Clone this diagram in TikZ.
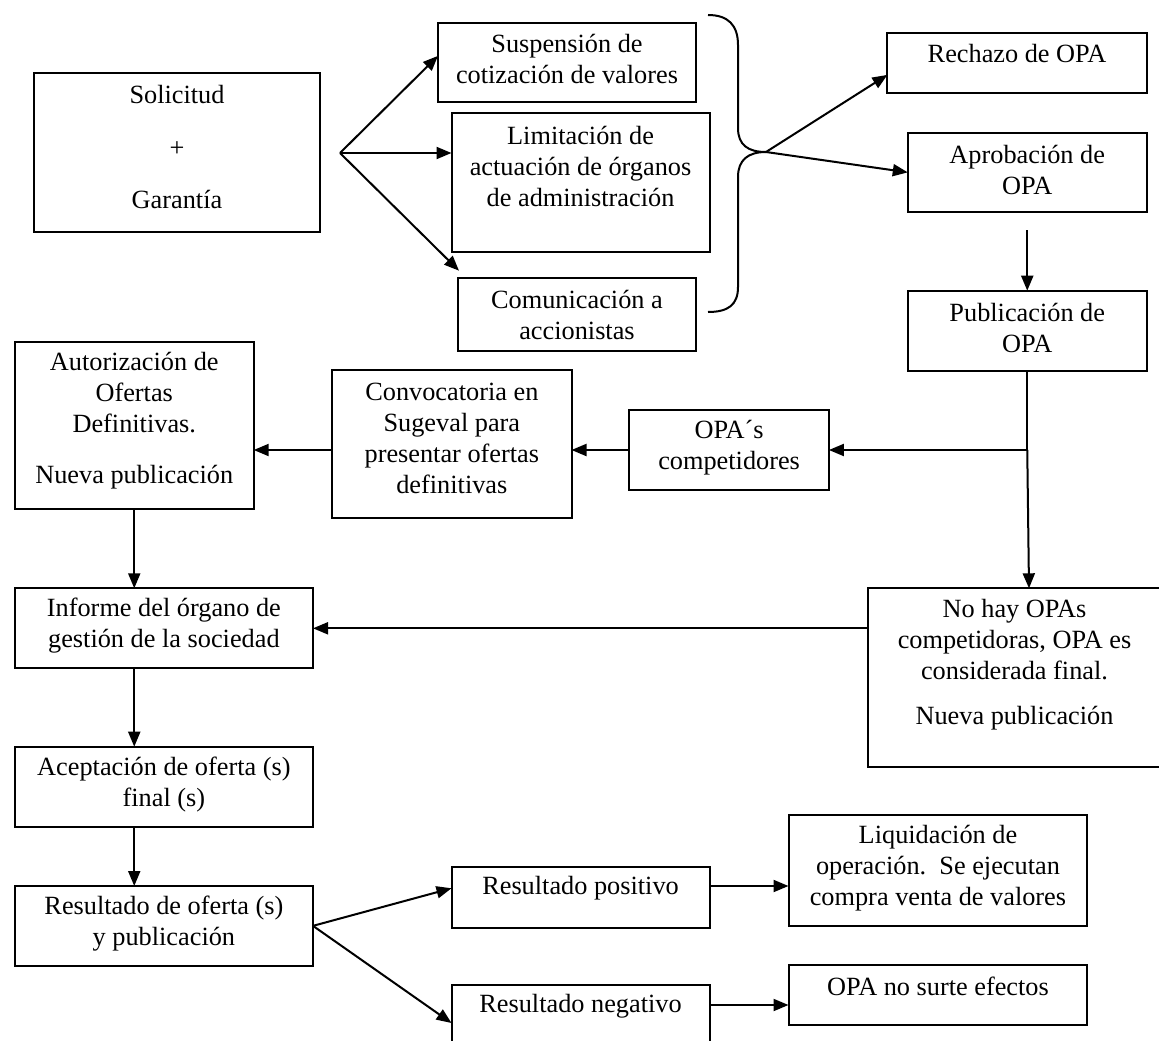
\documentclass[tikz,border=0pt]{standalone}
\usepackage{fontspec}
\setmainfont{Liberation Serif}
\usetikzlibrary{arrows.meta,calc}
\tikzset{
 box/.style={draw, line width=2pt, inner sep=0pt, outer sep=0pt},
 txt/.style={align=center, inner sep=0pt, font=\fontsize{26.3}{31}\selectfont},
 arr/.style={line width=2pt, -{Triangle[length=15pt,width=12pt]}},
 ln/.style={line width=2pt},
}
\newcommand\obox[7]{%
 \node[box, minimum width={(#4-(#2))*1pt}, minimum height={(#5-(#3))*1pt}] (#1) at ({(#2+#4)/2},{(#3+#5)/2}) {};
 \node[txt] (#1-t) at ({(#2+#4)/2},#6) {#7};
}
\begin{document}
\begin{tikzpicture}[x=1pt,y=-1pt]
\useasboundingbox (0,0) rectangle (1159,1041);
\fill[white] (0,0) rectangle (1159,1041);
\clip (0,0) rectangle (1159,1041);

\obox{sol}{34.4}{72.7}{319.6}{232.3}{147.5}{Solicitud\\[21.5pt]+\\[21.5pt]Garantía}
\obox{sus}{438}{22.7}{696}{101.7}{59}{Suspensión de\\cotización de valores}
\obox{lim}{451.5}{112.7}{709.6}{251.7}{166.5}{Limitación de\\actuación de órganos\\de administración}
\obox{com}{458}{277.7}{696}{350.7}{315}{Comunicación a\\accionistas}
\obox{rech}{887.4}{33.3}{1146.7}{92.7}{54}{Rechazo de OPA}
\obox{apr}{907.8}{132.7}{1146.7}{212}{170}{Aprobación de\\OPA}
\obox{pub}{907.8}{290.7}{1146.7}{370.7}{328}{Publicación de\\OPA}
\obox{aut}{14.8}{341.7}{253.7}{509.3}{420.3}{Autorización de\\Ofertas\\Definitivas.\\[20pt]Nueva publicación}
\obox{conv}{332.2}{370}{571.5}{518.3}{438.4}{Convocatoria en\\Sugeval para\\presentar ofertas\\definitivas}
\obox{opas}{629.3}{410}{828.9}{490}{447.2}{OPA´s\\competidores}
\obox{nohay}{868}{588.3}{1161}{766.7}{664.2}{No hay OPAs\\competidoras, OPA es\\considerada final.\\[14pt]Nueva publicación}
\obox{inf}{14.8}{588.3}{313}{668.3}{625.4}{Informe del órgano de\\gestión de la sociedad}
\obox{acep}{14.8}{746.7}{313}{826.7}{785}{Aceptación de oferta (s)\\final (s)}
\obox{res}{14.8}{886}{313}{965.7}{923.8}{Resultado de oferta (s)\\y publicación}
\obox{pos}{451.5}{866.7}{709.6}{928.3}{888.3}{Resultado positivo}
\obox{neg}{451.5}{985}{709.6}{1050}{1006.7}{Resultado negativo}
\obox{liq}{788.5}{815}{1087.4}{926}{867.8}{Liquidación de\\operación.\ \ Se ejecutan\\compra venta de valores}
\obox{opano}{788.5}{965}{1087.4}{1025}{986.7}{OPA no surte efectos}

\coordinate (f1) at (340,153);
\draw[arr] (f1) -- ($(sus.south west)!0.58!(sus.north west)$);
\draw[arr] (f1) -- (f1 -| lim.west);
\draw[arr] (f1) -- ($(com.north west)+(1,-7)$);

\coordinate (tip) at (766,152);
\draw[ln] (708,15) .. controls (728,15) and (738,25) .. (738,45) -- (738,128) .. controls (738,145) and (748,152) .. (tip) .. controls (748,152) and (738,160) .. (738,177) -- (738,287) .. controls (738,305) and (728,312) .. (708,312);
\draw[arr] (tip) -- ($(rech.south west)!0.3!(rech.north west)$);
\draw[arr] (tip) -- (apr.west);
\draw[arr, shorten <=18pt] (apr.south) -- (pub.north);

\coordinate (j) at (pub.south |- opas.east);
\draw[ln] (pub.south) -- (j);
\draw[arr] (j) -- (opas.east);
\draw[arr] (j) -- ($(nohay.north west)+(161,0)$);
\draw[arr] (opas.west) -- (opas.west -| conv.east);
\draw[arr] (opas.west -| conv.west) -- (opas.west -| aut.east);
\draw[arr] (aut.south) -- (aut.south |- inf.north);
\draw[arr] (inf.east -| nohay.west) -- (inf.east);
\draw[arr] (inf.south -| aut.south) -- (acep.north -| aut.south);
\draw[arr] (acep.south -| aut.south) -- (res.north -| aut.south);
\coordinate (f2) at (res.east);
\draw[arr] (f2) -- ($(pos.south west)!0.65!(pos.north west)$);
\draw[arr] (f2) -- ($(neg.north west)+(0,38)$);
\coordinate (pe) at ($(pos.north east)+(0,19.3)$);
\draw[arr] (pe) -- (pe -| liq.west);
\coordinate (ne) at ($(neg.north east)+(0,20)$);
\draw[arr] (ne) -- (ne -| opano.west);
\end{tikzpicture}
\end{document}
